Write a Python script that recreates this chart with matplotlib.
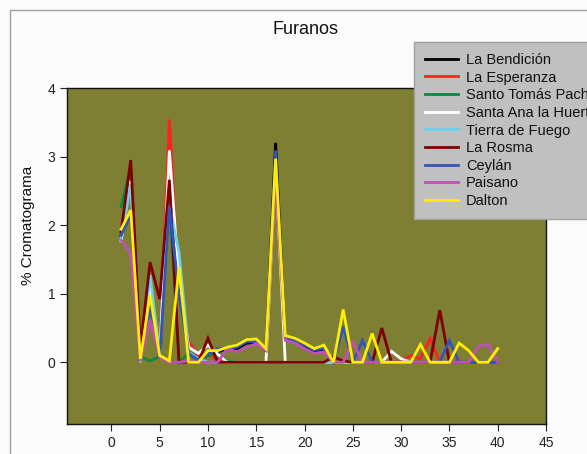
import matplotlib
matplotlib.use("Agg")
import matplotlib.pyplot as plt
from matplotlib.patches import Rectangle
import numpy as np

plt.rcParams['font.family'] = ['Liberation Sans', 'DejaVu Sans']

x = list(range(1, 41))

la_bendicion = [1.85, 2.6, 0.0, 1.0, 0.05, 2.5, 1.1, 0.15, 0.05, 0.1,
                0.15, 0.2, 0.2, 0.28, 0.28, 0.17, 3.2, 0.33, 0.3, 0.23,
                0.17, 0.18, 0.0, 0.0, 0.0, 0.0, 0.0, 0.0, 0.0, 0.0,
                0.0, 0.0, 0.0, 0.0, 0.0, 0.0, 0.0, 0.0, 0.0, 0.0]
la_esperanza = [1.9, 2.7, 0.02, 1.0, 0.1, 3.54, 1.0, 0.3, 0.1, 0.12,
                0.05, 0.0, 0.0, 0.0, 0.0, 0.0, 0.0, 0.0, 0.0, 0.0,
                0.0, 0.0, 0.0, 0.0, 0.0, 0.0, 0.0, 0.0, 0.0, 0.02,
                0.1, 0.05, 0.35, 0.0, 0.0, 0.0, 0.0, 0.0, 0.0, 0.0]
santo_tomas = [2.27, 2.85, 0.08, 0.02, 0.08, 2.4, 0.0, 0.13, 0.02, 0.1,
               0.13, 0.02, 0.0, 0.0, 0.0, 0.0, 0.0, 0.0, 0.0, 0.0,
               0.0, 0.0, 0.0, 0.0, 0.0, 0.0, 0.0, 0.0, 0.0, 0.0,
               0.0, 0.0, 0.0, 0.0, 0.0, 0.0, 0.0, 0.0, 0.0, 0.0]
santa_ana = [1.77, 2.65, 0.0, 1.1, 0.1, 3.09, 1.2, 0.22, 0.13, 0.25,
             0.12, 0.0, 0.0, 0.0, 0.0, 0.0, 2.85, 0.0, 0.0, 0.0,
             0.0, 0.0, 0.0, 0.0, 0.0, 0.0, 0.0, 0.0, 0.16, 0.05,
             0.0, 0.0, 0.0, 0.0, 0.0, 0.0, 0.0, 0.0, 0.0, 0.0]
tierra_fuego = [1.8, 2.6, 0.0, 1.27, 0.1, 2.3, 1.6, 0.15, 0.05, 0.0,
                0.0, 0.0, 0.0, 0.0, 0.0, 0.0, 0.0, 0.0, 0.0, 0.0,
                0.0, 0.0, 0.0, 0.0, 0.0, 0.0, 0.0, 0.0, 0.0, 0.0,
                0.0, 0.0, 0.0, 0.0, 0.0, 0.0, 0.0, 0.0, 0.0, 0.0]
la_rosma = [1.9, 2.95, 0.2, 1.46, 0.92, 2.66, 0.0, 0.0, 0.0, 0.35,
            0.0, 0.0, 0.0, 0.0, 0.0, 0.0, 0.0, 0.0, 0.0, 0.0,
            0.0, 0.0, 0.08, 0.02, 0.0, 0.0, 0.0, 0.5, 0.0, 0.0,
            0.0, 0.0, 0.0, 0.76, 0.0, 0.0, 0.0, 0.0, 0.0, 0.0]
ceylan = [1.85, 2.15, 0.02, 0.8, 0.05, 2.27, 1.0, 0.13, 0.03, 0.12,
          0.2, 0.2, 0.22, 0.3, 0.3, 0.18, 3.09, 0.35, 0.31, 0.25,
          0.18, 0.2, 0.0, 0.52, 0.0, 0.32, 0.0, 0.0, 0.0, 0.0,
          0.0, 0.0, 0.0, 0.0, 0.32, 0.0, 0.0, 0.0, 0.0, 0.0]
paisano = [1.78, 1.59, 0.02, 0.62, 0.07, 0.0, 0.0, 0.02, 0.0, 0.0,
           0.0, 0.2, 0.15, 0.22, 0.27, 0.17, 2.7, 0.32, 0.28, 0.2,
           0.13, 0.15, 0.0, 0.0, 0.3, 0.0, 0.0, 0.0, 0.0, 0.0,
           0.0, 0.0, 0.0, 0.0, 0.0, 0.0, 0.0, 0.23, 0.26, 0.0]
dalton = [1.94, 2.22, 0.05, 0.98, 0.1, 0.02, 1.39, 0.0, 0.0, 0.17,
          0.17, 0.22, 0.25, 0.33, 0.34, 0.2, 2.97, 0.39, 0.35, 0.28,
          0.2, 0.25, 0.0, 0.77, 0.0, 0.0, 0.42, 0.0, 0.0, 0.0,
          0.0, 0.26, 0.0, 0.0, 0.0, 0.28, 0.17, 0.0, 0.0, 0.2]

names = ["La Bendición", "La Esperanza", "Santo Tomás Pachuca",
         "Santa Ana la Huerta", "Tierra de Fuego", "La Rosma",
         "Ceylán", "Paisano", "Dalton"]
series = [la_bendicion, la_esperanza, santo_tomas, santa_ana, tierra_fuego,
          la_rosma, ceylan, paisano, dalton]
colors = ["#000000", "#ff2020", "#0a8a3c", "#ffffff", "#6cd0ea",
          "#800000", "#3355bb", "#c050b8", "#ffee00"]

W, H = 587, 454
fig = plt.figure(figsize=(W / 100, H / 100), dpi=100)
fig.patch.set_facecolor("#fbfbfb")
fig.patches.append(Rectangle((10 / W, -0.1), 1.2, 1 - 10 / H + 0.1,
                             transform=fig.transFigure, fill=False,
                             edgecolor="#a0a0a0", lw=1.0))

ax = fig.add_axes([67 / W, (H - 424) / H, (546 - 67) / W, (424 - 88) / H])
ax.set_facecolor("#7f7f33")
for name, vals, c in zip(names, series, colors):
    ax.plot(x, vals, color=c, lw=2.0, label=name, solid_joinstyle="miter")

ax.set_xlim(-4.6, 45)
ax.set_ylim(-0.9, 4)
ax.set_xticks(range(0, 46, 5))
ax.set_yticks(range(0, 5))
ax.tick_params(direction="out", length=5, width=0.8, labelsize=10,
               colors="#222222")
for s in ax.spines.values():
    s.set_color("#111111")
    s.set_linewidth(1.0)

fig.text(305 / W, 1 - 30 / H, "Furanos", ha="center", va="center",
         fontsize=13, color="#111111")
fig.text(28 / W, 1 - 225 / H, "% Cromatograma", rotation=90,
         ha="center", va="center", fontsize=11, color="#111111")

leg = fig.legend(loc="upper left", bbox_to_anchor=(414 / W, 1 - 42 / H),
                 bbox_transform=fig.transFigure, fontsize=10.5,
                 handlelength=2.25, labelspacing=0.25, borderpad=0.75,
                 borderaxespad=0, handletextpad=0.55, fancybox=False,
                 framealpha=1)
leg.get_frame().set_facecolor("#c0c0c0")
leg.get_frame().set_edgecolor("#a0a0a0")
for t in leg.get_texts():
    t.set_color("#111111")

fig.savefig("out.png", dpi=100, facecolor=fig.get_facecolor())
